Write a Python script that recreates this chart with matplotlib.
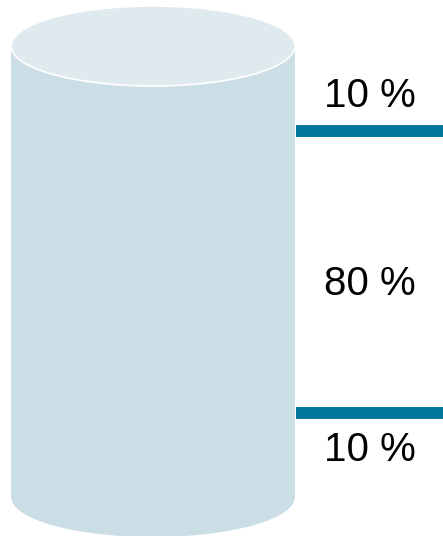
import matplotlib.pyplot as plt
from matplotlib.patches import Ellipse, Rectangle

# shares of the cylinder, bottom to top
labels = ['10 %', '80 %', '10 %']
shares = [10, 80, 10]

# colours
body_color = '#cbdee5'
top_color = '#dfeaee'
line_color = '#00789a'

fig = plt.figure(figsize=(4.43, 5.36), dpi=100)
ax = fig.add_axes([0, 0, 1, 1])
# x in pixels, y in percent of the cylinder (0 % = 448 px, 100 % = 96 px)
px_per_pct = 3.525
y0_px = 448.25
ax.set_xlim(0, 443)
ax.set_ylim((y0_px - 536) / px_per_pct, y0_px / px_per_pct)
ax.axis('off')

left, right = 11, 295
width = right - left
top_c = (y0_px - 46) / px_per_pct
bot_c = (y0_px - 497) / px_per_pct
rx_h = 80 / px_per_pct  # ellipse height in percent units

# cylinder body and ends
ax.add_patch(Ellipse((left + width / 2, bot_c), width, rx_h, color=body_color, lw=0))
ax.add_patch(Rectangle((left, bot_c), width, top_c - bot_c, color=body_color, lw=0))
ax.add_patch(Ellipse((left + width / 2, top_c), width, rx_h, facecolor=top_color,
                     edgecolor='white', lw=1.2))

# boundary lines between the shares
cum = 0
bounds = []
for s in shares[:-1]:
    cum += s
    bounds.append(cum)
for b in bounds:
    ax.plot([right + 1, 443], [b, b], color=line_color, lw=8.6, solid_capstyle='butt')

# labels: below first line, in the middle, above last line
label_y = [bounds[0] - 10.5, (bounds[0] + bounds[1]) / 2 - 3.3, bounds[1] + 10]
for lab, y in zip(labels, label_y):
    ax.text(370, y, lab, ha='center', va='center', fontsize=29,
            family='Liberation Sans', color='black')

fig.savefig('out.png', dpi=100)
